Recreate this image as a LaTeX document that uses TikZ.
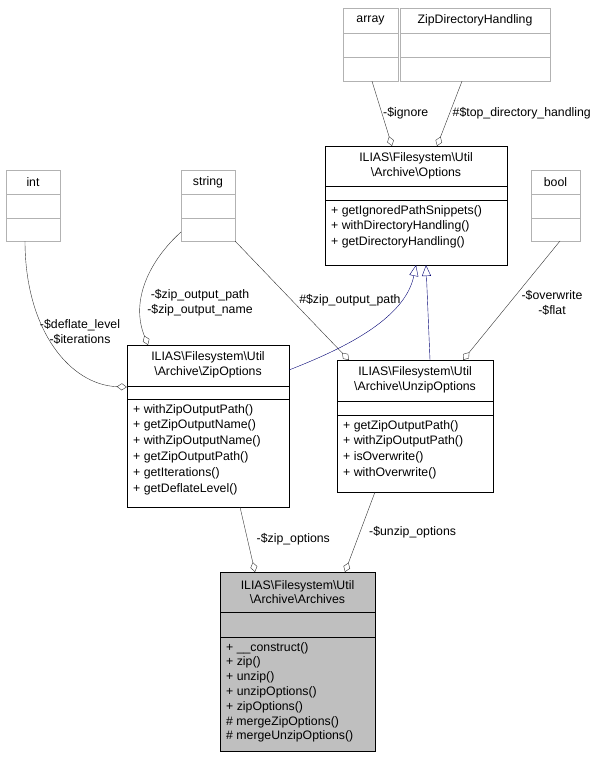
\documentclass[tikz,border=0pt]{standalone}
\usepackage{fontspec}
\setmainfont{Liberation Sans}
\usetikzlibrary{fit,arrows.meta}
\begin{document}
\begin{tikzpicture}[x=1pt,y=-1pt,font=\fontsize{12.3}{14.6}\selectfont,>=Diamond,
  classbox/.style={draw=black,inner sep=0pt},
  emptybox/.style={draw=black!30,inner sep=0pt},
  member/.style={anchor=north west,align=left,inner sep=0pt,font=\fontsize{12.3}{15.8}\selectfont},
  title/.style={align=center,inner sep=0pt},
  agg/.style={draw=black!80,-{Diamond[open,fill=white,length=10pt,width=7pt]}},
  inh/.style={draw=blue!45!black,-{Triangle[open,fill=white,length=11pt,width=9pt]}},
  lbl/.style={align=center,inner sep=1pt}]
 \newcommand{\bs}{\textbackslash}
 \useasboundingbox (0,0) rectangle (607,757);

  % Leaf classes
  \node[emptybox,fit={(343,8)(398,81)}] (array) {};
  \draw[black!30] (343,33) -- (398,33) (343,57) -- (398,57);
  \node[title] at (370.5,20) {array};
  \node[emptybox,fit={(400,8)(550,81)}] (zdh) {};
  \draw[black!30] (400,33) -- (550,33) (400,57) -- (550,57);
  \node[title] at (475,20) {ZipDirectoryHandling};
  \node[emptybox,fit={(6,170)(60,241)}] (int) {};
  \draw[black!30] (6,194) -- (60,194) (6,218) -- (60,218);
  \node[title] at (33,182) {int};
  \node[emptybox,fit={(181,170)(235,241)}] (string) {};
  \draw[black!30] (181,194) -- (235,194) (181,218) -- (235,218);
  \node[title] at (208,182) {string};
  \node[emptybox,fit={(531,170)(580,241)}] (bool) {};
  \draw[black!30] (531,194) -- (580,194) (531,218) -- (580,218);
  \node[title] at (555.5,182) {bool};

  % Options
  \node[classbox,fit={(325,146)(507,265)}] (options) {};
  \draw (325,186) -- (507,186) (325,200) -- (507,200);
  \node[title] at (416,166) {ILIAS\bs Filesystem\bs Util\\\bs Archive\bs Options};
  \node[member] at (331,205) {+ getIgnoredPathSnippets()\\+ withDirectoryHandling()\\+ getDirectoryHandling()};

  % ZipOptions
  \node[classbox,fit={(127,345)(289,507)}] (zipopt) {};
  \draw (127,386) -- (289,386) (127,399) -- (289,399);
  \node[title] at (208,365) {ILIAS\bs Filesystem\bs Util\\\bs Archive\bs ZipOptions};
  \node[member] at (133,404) {+ withZipOutputPath()\\+ getZipOutputName()\\+ withZipOutputName()\\+ getZipOutputPath()\\+ getIterations()\\+ getDeflateLevel()};

  % UnzipOptions
  \node[classbox,fit={(337,360)(493,492)}] (unzipopt) {};
  \draw (337,401) -- (493,401) (337,415) -- (493,415);
  \node[title] at (415,380) {ILIAS\bs Filesystem\bs Util\\\bs Archive\bs UnzipOptions};
  \node[member] at (343,420) {+ getZipOutputPath()\\+ withZipOutputPath()\\+ isOverwrite()\\+ withOverwrite()};

  % Archives
  \node[classbox,fill=black!25,fit={(220,572)(375,751)}] (archives) {};
  \draw (220,612) -- (375,612) (220,637) -- (375,637);
  \node[title] at (297.5,592) {ILIAS\bs Filesystem\bs Util\\\bs Archive\bs Archives};
  \node[member,font=\fontsize{12.3}{14.8}\selectfont] at (226,642) {+ \_\_construct()\\+ zip()\\+ unzip()\\+ unzipOptions()\\+ zipOptions()\\\# mergeZipOptions()\\\# mergeUnzipOptions()};

  % Connectors
  \coordinate (opt1) at (392,146);
  \coordinate (opt2) at (437,146);
  \draw[agg] (array.south -| 372,0) -- (opt1) node[lbl,pos=0.5,right] {-\$ignore};
  \draw[agg] (zdh.south -| 462,0) -- (opt2) node[lbl,pos=0.5,right=2pt] {\#\$top\_directory\_handling};
  \draw[agg] (25,241) .. controls (25,330) and (70,385) .. (zipopt.west |- 0,387);
  \node[lbl] at (80,332) {-\$deflate\_level\\-\$iterations};
  \draw[agg] (181,232) .. controls (150,260) and (130,300) .. (148,345);
  \node[lbl] at (200,303) {-\$zip\_output\_path\\-\$zip\_output\_name};
  \draw[agg] (string.south east) -- (349,360) node[lbl,pos=0.5,right=6pt] {\#\$zip\_output\_path};
  \draw[agg] (560,241) -- (463,360);
  \node[lbl] at (552,303) {-\$overwrite\\-\$flat};
  \draw[inh] (289,370) .. controls (340,350) and (405,320) .. (416,265);
  \draw[inh] (430,360) -- (426,265);
  \draw[agg] (240,507) -- (255,572) node[lbl,pos=0.5,right=8pt] {-\$zip\_options};
  \draw[agg] (375,492) -- (345,572) node[lbl,pos=0.5,right=8pt] {-\$unzip\_options};
\end{tikzpicture}
\end{document}
